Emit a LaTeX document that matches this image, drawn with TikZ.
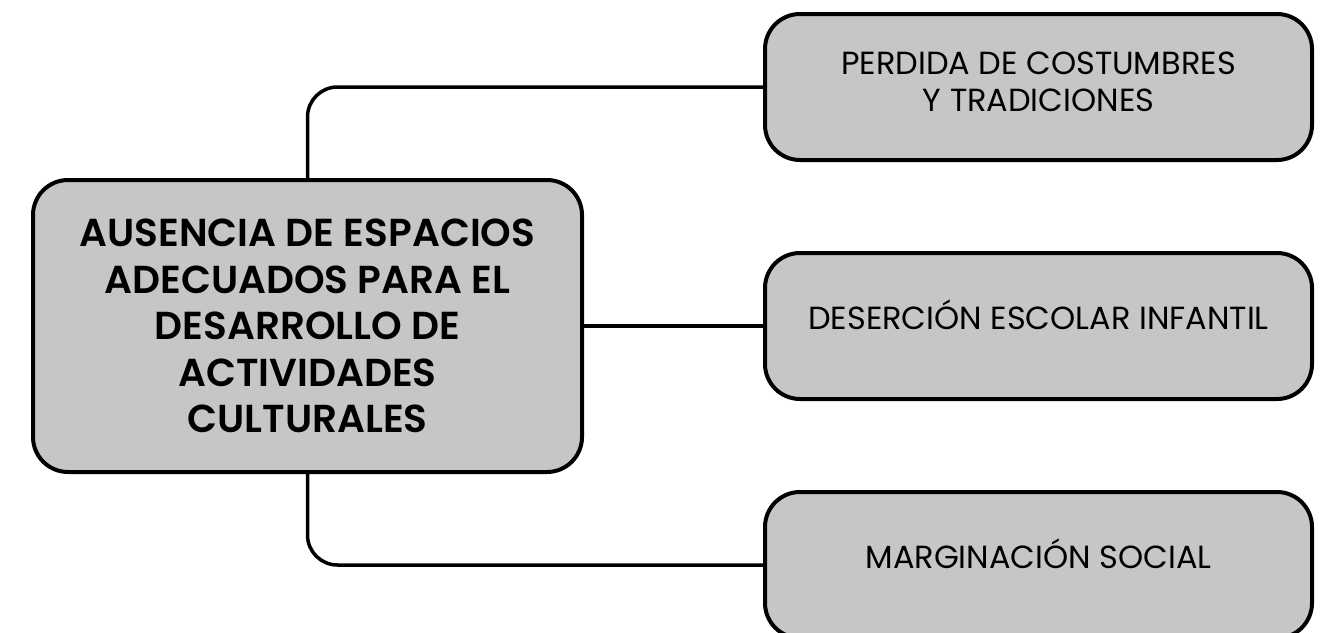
\documentclass[tikz,border=0pt]{standalone}
\usepackage{fontspec}
\setmainfont{Poppins}[BoldFont={Poppins SemiBold}]
\definecolor{boxgray}{HTML}{C6C6C6}
\begin{document}
\begin{tikzpicture}[x=1pt,y=-1pt]

  \tikzstyle{nodoCausa}=[shape=rectangle,rounded corners=35pt,draw,line width=4pt,fill=boxgray,align=center,minimum width=549pt,minimum height=292pt,font=\bfseries\fontsize{39}{46.6}\selectfont]

  \tikzstyle{nodoEfecto}=[shape=rectangle,rounded corners=35pt,draw,line width=4pt,fill=boxgray,align=center,minimum width=547pt,minimum height=146pt,font=\fontsize{32}{37}\selectfont]

  \tikzstyle{unaLinea}=[text height=0.7em,text depth=0pt]

  \tikzstyle{lineConector}=[draw,line width=3.5pt,rounded corners=30pt]

\useasboundingbox (0,0) rectangle (1324,632);
\clip (0,0) rectangle (1324,632);

%% nodes

\node (main)[nodoCausa] at (307.5,326) {AUSENCIA DE ESPACIOS\\ADECUADOS PARA EL\\DESARROLLO DE\\ACTIVIDADES\\CULTURALES};

\node (perdida)[nodoEfecto] at (1038.5,87) {PERDIDA DE COSTUMBRES\\Y TRADICIONES\rule[-10pt]{0pt}{0pt}};

\node (desercion)[nodoEfecto,unaLinea] at (1038.5,326) {DESERCIÓN ESCOLAR INFANTIL};

\node (marginacion)[nodoEfecto,unaLinea] at (1038.5,565) {MARGINACIÓN SOCIAL};

%% connectors

\path[lineConector] (main.north) |- (perdida.west);

\path[lineConector] (main.east) -- (desercion.west);

\path[lineConector] (main.south) |- (marginacion.west);

\end{tikzpicture}
\end{document}
